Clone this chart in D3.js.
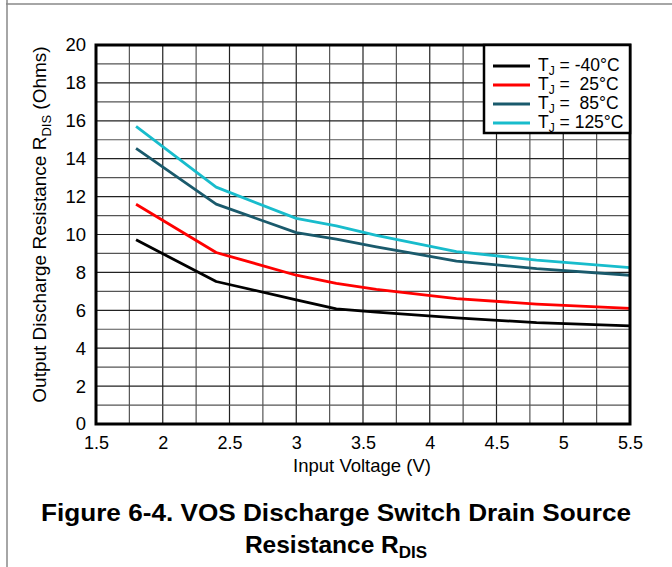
<!DOCTYPE html>
<html><head><meta charset="utf-8">
<script src="https://cdn.jsdelivr.net/npm/d3@7"></script>
<style>body{margin:0;background:#fff}svg{display:block;font-family:"Liberation Sans",Arial,sans-serif}</style>
</head><body>
<script>
const voltages = [1.8, 2.4, 3.0, 3.3, 3.6, 4.2, 4.8, 5.5];
const rMinus40 = [9.72, 7.52, 6.55, 6.08, 5.9, 5.6, 5.35, 5.18];
const r25 = [11.6, 9.05, 7.85, 7.42, 7.1, 6.62, 6.33, 6.1];
const r85 = [14.55, 11.6, 10.1, 9.75, 9.35, 8.6, 8.2, 7.85];
const r125 = [15.7, 12.5, 10.85, 10.45, 9.95, 9.1, 8.65, 8.25];
const seriesNames = ["-40°C", " 25°C", " 85°C", "125°C"];
const seriesColors = ["#000000", "#ff0000", "#1a5a6c", "#18bccc"];
const xTicks = [1.5, 2, 2.5, 3, 3.5, 4, 4.5, 5, 5.5];
const yTicks = [0, 2, 4, 6, 8, 10, 12, 14, 16, 18, 20];

const W = 672, H = 567;
const FONT = "Liberation Sans, Arial, sans-serif";
const svg = d3.select("body").append("svg").attr("width", W).attr("height", H);
const L = 96, R = 630, T = 45, B = 424;
const x = d3.scaleLinear().domain([1.5, 5.5]).range([L, R]);
const y = d3.scaleLinear().domain([0, 20]).range([B, T]);

// page frame
svg.append("line").attr("x1", 6).attr("x2", W).attr("y1", 4).attr("y2", 4).attr("stroke", "#888").attr("stroke-width", 1.5);
svg.append("line").attr("x1", 7).attr("x2", 7).attr("y1", 0).attr("y2", H).attr("stroke", "#888").attr("stroke-width", 1.5);

// grid
const g = svg.append("g");
const vGrid = d3.range(1.5, 5.5001, 0.25);
g.selectAll(".vg").data(vGrid).join("line")
  .attr("x1", d => x(d)).attr("x2", d => x(d)).attr("y1", T).attr("y2", B)
  .attr("stroke", (d, i) => i % 2 ? "#555" : "#222").attr("stroke-width", 1.2);
g.selectAll(".hg").data(d3.range(0, 20.001, 1)).join("line")
  .attr("x1", L).attr("x2", R).attr("y1", d => y(d)).attr("y2", d => y(d))
  .attr("stroke", (d, i) => i % 2 ? "#555" : "#222").attr("stroke-width", 1.2);

// lines
const line = d3.line().x(d => x(d[0])).y(d => y(d[1]));
const all = [rMinus40, r25, r85, r125];
all.forEach((s, i) => {
  svg.append("path").datum(voltages.map((v, j) => [v, s[j]]))
    .attr("d", line).attr("fill", "none").attr("stroke", seriesColors[i])
    .attr("stroke-width", 2.8).attr("stroke-linejoin", "round");
});

// plot frame
svg.append("rect").attr("x", L).attr("y", T).attr("width", R - L).attr("height", B - T)
  .attr("fill", "none").attr("stroke", "#000").attr("stroke-width", 3);

// axes
const xAxis = svg.append("g").attr("transform", `translate(0,${B})`)
  .call(d3.axisBottom(x).tickValues(xTicks).tickSize(0).tickPadding(12).tickFormat(d3.format("")));
xAxis.select(".domain").remove();
xAxis.attr("font-size", 18).attr("font-family", FONT);
xAxis.selectAll("text").attr("fill", "#000");
const yAxis = svg.append("g").attr("transform", `translate(${L},0)`)
  .call(d3.axisLeft(y).tickValues(yTicks).tickSize(0).tickPadding(10));
yAxis.select(".domain").remove();
yAxis.attr("font-size", 18.5).attr("font-family", FONT);
yAxis.selectAll("text").attr("fill", "#000");

// axis titles
svg.append("text").attr("x", (L + R) / 2 - 1).attr("y", 471.5).attr("text-anchor", "middle")
  .attr("font-size", 18.5).text("Input Voltage (V)");
const yt = svg.append("text").attr("transform", `translate(46,${(T + B) / 2 - 10}) rotate(-90)`)
  .attr("text-anchor", "middle").attr("font-size", 19);
yt.append("tspan").text("Output Discharge Resistance R");
yt.append("tspan").attr("font-size", 13).attr("dy", 5).text("DIS");
yt.append("tspan").attr("dy", -5).text(" (Ohms)");

// legend
const lg = svg.append("g");
lg.append("rect").attr("x", 484).attr("y", T).attr("width", R - 484).attr("height", 88)
  .attr("fill", "#fff").attr("stroke", "#000").attr("stroke-width", 2.5);
seriesNames.forEach((n, i) => {
  const yy = 66 + i * 19;
  lg.append("line").attr("x1", 493).attr("x2", 530).attr("y1", yy).attr("y2", yy)
    .attr("stroke", seriesColors[i]).attr("stroke-width", 2.8);
  const t = lg.append("text").attr("x", 538).attr("y", yy + 5).attr("font-size", 17.5).attr("xml:space", "preserve");
  t.append("tspan").text("T");
  t.append("tspan").attr("font-size", 12).attr("dy", 4).text("J");
  t.append("tspan").attr("dy", -4).text(" = " + n);
});

// caption
svg.append("text").attr("x", 336).attr("y", 520.5).attr("text-anchor", "middle")
  .attr("font-size", 24.5).attr("font-weight", "bold")
  .attr("textLength", 590).attr("lengthAdjust", "spacingAndGlyphs")
  .text("Figure 6-4. VOS Discharge Switch Drain Source");
const c2 = svg.append("text").attr("x", 336).attr("y", 553).attr("text-anchor", "middle")
  .attr("font-size", 24.5).attr("font-weight", "bold");
c2.append("tspan").text("Resistance R");
c2.append("tspan").attr("font-size", 17).attr("dy", 5).text("DIS");
</script>
</body></html>
